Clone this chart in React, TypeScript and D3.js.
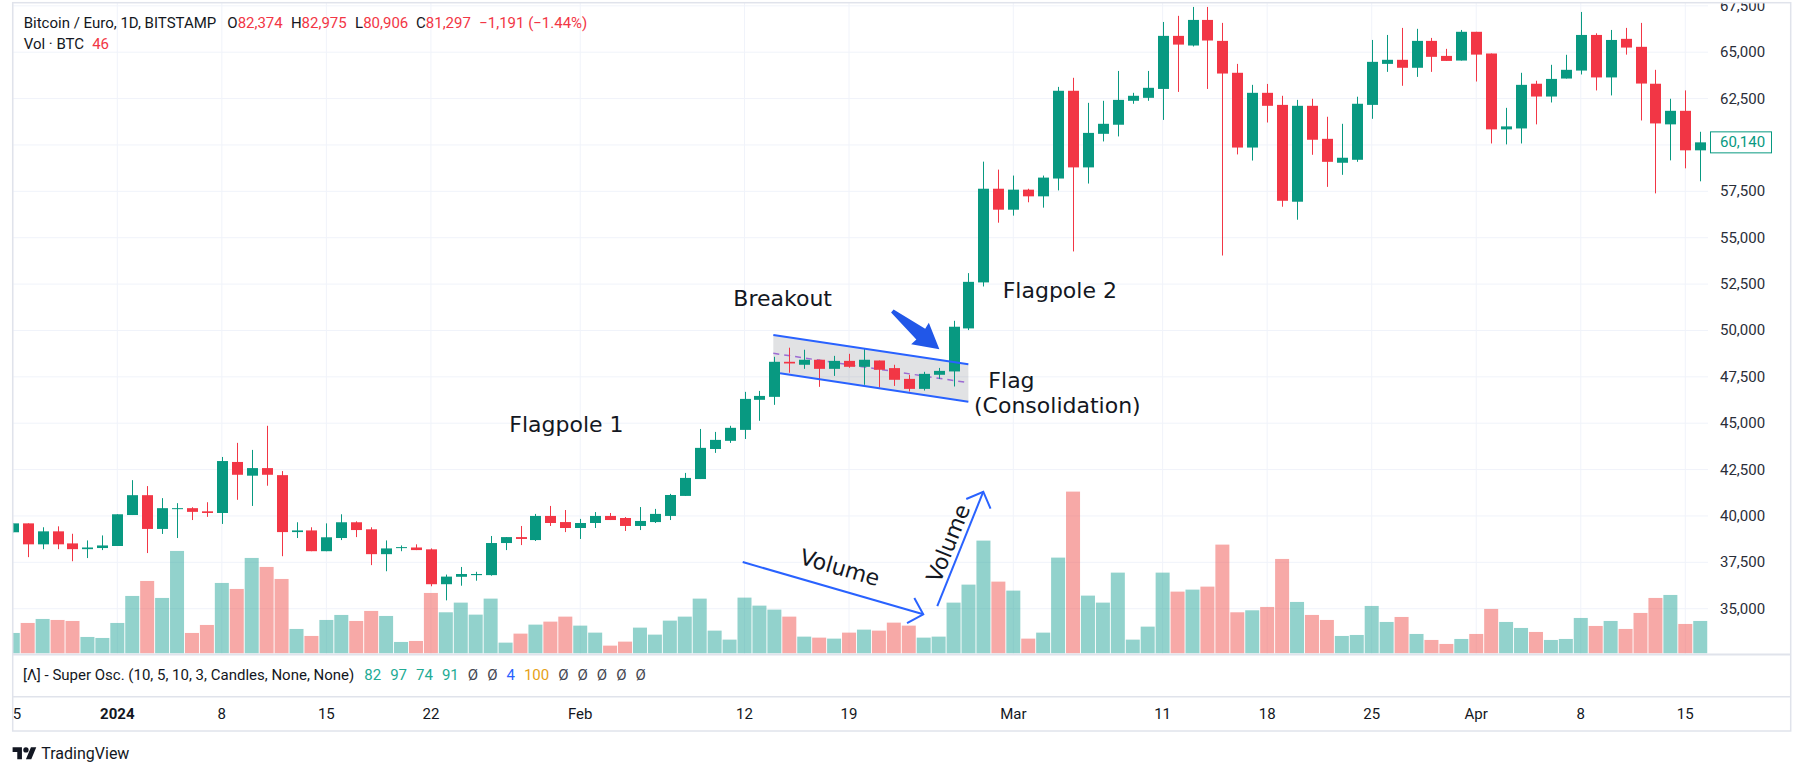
// @ts-nocheck
import * as d3 from "d3";

// daily candles, BTC/EUR Bitstamp, from 25 Dec 2023
const firstDay = "2023-12-25";
const opens = [
  39120, 39600, 38470, 39170, 38520, 38210, 38270, 38380, 40050, 41120, 39300, 40370, 40420, 40250,
  40160, 42910, 42170, 42580, 42200, 39130, 39220, 38100, 38810, 39660, 39280, 37940, 38270, 38300,
  38200, 36320, 36720, 36810, 36810, 38540, 38860, 38700, 40000, 39670, 39350, 39620, 40000, 39890,
  39460, 39670, 40000, 41080, 41990, 43610, 44050, 44640, 46260, 46420, 48310, 48150, 48420, 47930,
  48360, 48040, 48380, 47970, 47390, 46850, 47610, 47790, 50110, 52590, 57640, 56510, 57590, 57230,
  58190, 62920, 58790, 60600, 61090, 62380, 62540, 63020, 65880, 65360, 66740, 65610, 63890, 59860,
  62810, 62160, 56940, 62110, 60330, 59040, 59200, 62160, 64370, 64590, 64160, 65610, 64800, 64550,
  66100, 64930, 60840, 60890, 63300, 62610, 63580, 64010, 65930, 63640, 65720, 65290, 63300, 61110,
  61840, 59710, 60140,
];
const highs = [
  39600, 39600, 39390, 39440, 39040, 38680, 38950, 40090, 41930, 41610, 40960, 40690, 40470, 40740,
  43180, 43940, 43560, 44860, 42420, 39660, 39390, 39600, 40090, 39710, 39390, 38680, 38410, 38470,
  38250, 36840, 37250, 36990, 38920, 38860, 39460, 40110, 40540, 40320, 39840, 40210, 40160, 39940,
  40480, 40380, 41190, 42320, 44690, 44530, 44860, 46690, 46740, 48580, 49070, 48960, 48420, 48630,
  48740, 49010, 48380, 48150, 47610, 47770, 47980, 50520, 53090, 59100, 58670, 58350, 57640, 58350,
  63130, 63620, 62270, 62380, 63990, 62810, 63990, 66630, 66960, 67440, 67440, 66580, 64370, 63240,
  63290, 62650, 62430, 62490, 61520, 61140, 62600, 65660, 65930, 66310, 66260, 65770, 65180, 66200,
  66100, 64930, 62000, 63890, 63460, 64320, 64860, 67170, 66020, 66200, 66310, 66580, 64050, 62490,
  62940, 60710, 60500,
];
const lows = [
  39120, 37780, 38210, 38210, 37560, 37730, 38160, 38380, 40050, 38000, 39030, 38810, 39780, 39950,
  39570, 40870, 40540, 41630, 37830, 38810, 38100, 38100, 38700, 38860, 37350, 37020, 38100, 38160,
  36210, 35450, 36240, 36510, 36780, 38160, 38430, 38650, 39460, 39130, 38760, 39350, 39780, 39190,
  39240, 39620, 39780, 41080, 41990, 43400, 43940, 44150, 45130, 45990, 47720, 47930, 46960, 47550,
  47990, 47070, 46920, 47010, 46710, 46760, 47390, 46980, 50020, 52370, 55810, 56190, 56910, 56620,
  57550, 54260, 57920, 60190, 60460, 62220, 62380, 61350, 62860, 65310, 63020, 54040, 59490, 59160,
  61210, 56670, 55970, 59470, 57740, 58390, 59090, 61410, 63940, 63190, 63670, 63940, 64530, 64550,
  63420, 60080, 60030, 60080, 61110, 62290, 63580, 63800, 62940, 62670, 64870, 61320, 57390, 59170,
  58740, 58040, 59500,
];
const closes = [
  39600, 38470, 39170, 38470, 38210, 38300, 38410, 40090, 41120, 39300, 40420, 40420, 40220, 40160,
  42960, 42220, 42580, 42220, 39130, 39220, 38100, 38850, 39660, 39240, 37940, 38250, 38320, 38160,
  36320, 36730, 36870, 36870, 38540, 38860, 38760, 40000, 39620, 39350, 39620, 40000, 39780, 39460,
  39730, 40110, 41130, 42050, 43670, 44100, 44750, 46310, 46470, 48310, 48220, 48420, 47930, 48360,
  48040, 48420, 47880, 47340, 46850, 47660, 47820, 50200, 52620, 57640, 56510, 57590, 57230, 58240,
  62920, 58790, 60650, 61140, 62430, 62650, 63080, 65880, 65410, 66740, 65630, 63850, 59860, 62810,
  62110, 56990, 62110, 60280, 59090, 59310, 62220, 64480, 64590, 64160, 65610, 64750, 64530, 66100,
  64870, 60840, 61000, 63240, 62610, 63560, 64050, 65930, 63640, 65660, 65250, 63310, 61160, 61840,
  59710, 60140, 59600,
];
const volumes = [
  61, 91, 103, 100, 97, 49, 46, 91, 172, 217, 166, 307, 61, 85,
  211, 193, 286, 259, 223, 73, 52, 100, 115, 97, 127, 112, 34, 37,
  181, 123, 152, 116, 164, 32, 59, 86, 95, 110, 83, 62, 23, 35,
  77, 56, 98, 110, 164, 68, 41, 167, 143, 131, 110, 50, 47, 44,
  62, 71, 68, 92, 83, 47, 50, 152, 206, 338, 215, 188, 44, 62,
  287, 485, 173, 152, 242, 41, 80, 242, 185, 191, 200, 326, 123, 129,
  139, 283, 154, 115, 100, 52, 55, 142, 94, 109, 58, 40, 28, 43,
  58, 133, 94, 76, 64, 40, 43, 106, 82, 97, 73, 121, 166, 175,
  88, 97, 118,
];

const priceTicks = [35000, 37500, 40000, 42500, 45000, 47500, 50000, 52500, 55000, 57500, 60000, 62500, 65000, 67500];
const timeTicks = [
  "2023-12-25", "2024-01-01", "2024-01-08", "2024-01-15", "2024-01-22", "2024-02-01", "2024-02-12",
  "2024-02-19", "2024-03-01", "2024-03-11", "2024-03-18", "2024-03-25", "2024-04-01", "2024-04-08", "2024-04-15",
];
const timeLabels = ["25", "2024", "8", "15", "22", "Feb", "12", "19", "Mar", "11", "18", "25", "Apr", "8", "15"];
const lastPrice = 60140;

const legendTitle = "Bitcoin / Euro, 1D, BITSTAMP";
const legendOHLC = [["O", "82,374"], ["H", "82,975"], ["L", "80,906"], ["C", "81,297"]];
const legendChange = "−1,191 (−1.44%)";
const volLegend = "46";
const oscTitle = "[Λ] - Super Osc. (10, 5, 10, 3, Candles, None, None)";
const oscValues = ["82", "97", "74", "91", "Ø", "Ø", "4", "100", "Ø", "Ø", "Ø", "Ø", "Ø"];
const oscColors = ["#22ab94", "#22ab94", "#22ab94", "#22ab94", "#434651", "#434651", "#2962ff", "#e6a117", "#434651", "#434651", "#434651", "#434651", "#434651"];

// drawings: [days after 1 Jan 2024, price]
const flagTop = [[43.93, 49755], [56.99, 48175]];
const flagBottom = [[43.93, 47745], [56.99, 46160]];
const flagMid = [[43.93, 48768], [56.99, 47183]];
const breakoutArrow = [[51.9, 51048], [55.05, 48984]];
const volArrow1 = [[41.88, 37517], [53.97, 34698]];
const volArrow2 = [[54.91, 35145], [57.99, 41307]];
const notes = [
  { text: "Flagpole 1", day: 26.25, price: 44540 },
  { text: "Breakout", day: 41.25, price: 51320 },
  { text: "Flagpole 2", day: 59.29, price: 51770 },
  { text: "Flag", day: 58.33, price: 46880 },
  { text: "(Consolidation)", day: 57.37, price: 45530 },
];
const volNotes = [
  { day: 48.39, price: 37210, along: volArrow1 },
  { day: 55.65, price: 38526, along: volArrow2 },
];

const W = 1804, H = 775;
const left = 12.7, plotRight = 1708, right = 1790.7, top = 2.7, paneBottom = 654;
const UP = "#089981", DOWN = "#f23645";
const sans = "Roboto, 'Liberation Sans', sans-serif";
const noteFont = "'DejaVu Sans', Verdana, sans-serif";

const jan1 = new Date(Date.UTC(2024, 0, 1));
const x = d3.scaleUtc([jan1, new Date(Date.UTC(2024, 3, 15))], [117.3, 1685.3]);
const y = d3.scaleLinear([35000, 65000], [608.7, 52.2]);
const yVol = d3.scaleLinear([0, d3.max(volumes)], [653.3, 491.6]);
const fmt = d3.format(",");

const days = opens.map((_, i) => d3.utcDay.offset(new Date(firstDay + "T00:00Z"), i));
const xd = (d) => x(new Date(jan1.getTime() + d * 864e5));
const pt = ([d, p]) => [xd(d), y(p)];

function arrowHead(a, b, len = 18.5) {
  const [x1, y1] = pt(a), [x2, y2] = pt(b);
  const ang = Math.atan2(y1 - y2, x1 - x2);
  const p1 = [x2 + len * Math.cos(ang + Math.PI / 4), y2 + len * Math.sin(ang + Math.PI / 4)];
  const p2 = [x2 + len * Math.cos(ang - Math.PI / 4), y2 + len * Math.sin(ang - Math.PI / 4)];
  return `M${p1}L${x2},${y2}L${p2}`;
}

// tapered arrow marker
function fatArrow(a, b) {
  const [tx, ty] = pt(a), [hx, hy] = pt(b);
  const L = Math.hypot(hx - tx, hy - ty);
  const ux = (hx - tx) / L, uy = (hy - ty) / L, nx = -uy, ny = ux;
  const bx = hx - ux * 24, by = hy - uy * 24;
  const pts = [
    [tx + nx * 2, ty + ny * 2],
    [bx + nx * 7, by + ny * 7],
    [bx - ux * 1 + nx * 14, by - uy * 1 + ny * 14],
    [hx, hy],
    [bx - ux * 1 - nx * 14, by - uy * 1 - ny * 14],
    [bx - nx * 7, by - ny * 7],
    [tx - nx * 2, ty - ny * 2],
  ];
  return "M" + pts.map((p) => p.join(",")).join("L") + "Z";
}

const line = d3.line().x((d) => xd(d[0])).y((d) => y(d[1]));

export default function App() {
  const flagPoly = [...flagTop, ...flagBottom.slice().reverse()].map((p) => pt(p).join(",")).join(" ");
  return (
    <svg width={W} height={H} style={{ position: "absolute", left: 0, top: 0, background: "#fff" }}>
      <defs>
        <clipPath id="plot"><rect x={left} y={top} width={plotRight - left} height={paneBottom - top} /></clipPath>
        <clipPath id="axis"><rect x={left} y={top} width={right - left} height={760} /></clipPath>
      </defs>

      {/* grid */}
      <g clipPath="url(#plot)" stroke="#f0f3fa" strokeWidth={1}>
        {priceTicks.map((p) => <line key={p} x1={left} x2={plotRight} y1={y(p)} y2={y(p)} />)}
        {timeTicks.map((t) => {
          const xx = x(new Date(t + "T00:00Z"));
          return <line key={t} x1={xx} x2={xx} y1={top} y2={paneBottom} />;
        })}
      </g>

      <g clipPath="url(#plot)">
        {/* volume */}
        {volumes.map((v, i) => (
          <rect key={i} x={x(days[i]) - 7} width={14} y={yVol(v)} height={yVol(0) - yVol(v)}
            fill={closes[i] >= opens[i] ? "rgba(38,166,154,0.5)" : "rgba(239,83,80,0.5)"} />
        ))}

        {/* flag */}
        <polygon points={flagPoly} fill="rgba(120,123,134,0.22)" />
        <path d={line(flagMid)} stroke="#9c6bd3" strokeWidth={1.5} strokeDasharray="6 5" fill="none" />

        {/* candles */}
        {opens.map((o, i) => {
          const c = closes[i], col = c >= o ? UP : DOWN, cx = Math.round(x(days[i]));
          const yt = y(Math.max(o, c)), yb = y(Math.min(o, c));
          return (
            <g key={i} fill={col}>
              <rect x={cx} width={1} y={y(highs[i])} height={y(lows[i]) - y(highs[i])} />
              <rect x={cx - 5} width={11} y={yt} height={Math.max(1, yb - yt)} />
            </g>
          );
        })}

        <path d={line(flagTop)} stroke="#2962ff" strokeWidth={2} fill="none" />
        <path d={line([[44.38, flagBottom[0][1] - (flagBottom[0][1] - flagBottom[1][1]) * (0.45 / 13.06)], flagBottom[1]])}
          stroke="#2962ff" strokeWidth={2} fill="none" />
        <path d={fatArrow(breakoutArrow[0], breakoutArrow[1])} fill="#2157e8" />

        {/* volume arrows */}
        {[volArrow1, volArrow2].map((a, i) => (
          <g key={i} stroke="#2962ff" strokeWidth={2} fill="none">
            <path d={line(a)} />
            <path d={arrowHead(a[0], a[1])} />
          </g>
        ))}
        {volNotes.map((n, i) => {
          const [a, b] = [pt(n.along[0]), pt(n.along[1])];
          const ang = (Math.atan2(b[1] - a[1], b[0] - a[0]) * 180) / Math.PI;
          const [tx, ty] = pt([n.day, n.price]);
          return (
            <text key={i} x={tx} y={ty} transform={`rotate(${ang},${tx},${ty})`} textAnchor="middle"
              dominantBaseline="central" fontFamily={noteFont} fontSize={22} fill="#131722">Volume</text>
          );
        })}

        {notes.map((n) => {
          const [tx, ty] = pt([n.day, n.price]);
          return <text key={n.text} x={tx} y={ty} fontFamily={noteFont} fontSize={22} fill="#131722">{n.text}</text>;
        })}
      </g>

      {/* price axis */}
      <g clipPath="url(#axis)" fontFamily={sans} fontSize={15} fill="#2a2e39">
        {priceTicks.map((p) => (
          <text key={p} x={1720} y={y(p)} dominantBaseline="central">{fmt(p)}</text>
        ))}
        <rect x={1710.5} y={y(lastPrice) - 10.5} width={61} height={21} fill="#fff" stroke={UP} strokeWidth={1} />
        <text x={1720} y={y(lastPrice)} dominantBaseline="central" fill={UP}>{fmt(lastPrice)}</text>
      </g>

      {/* legends */}
      <g fontFamily={sans} fontSize={15} fill="#131722">
        <text x={23.7} y={28.3}>{legendTitle}</text>
        {legendOHLC.map(([k, v], i) => (
          <text key={k} x={[227.3, 290.9, 355.1, 416][i]} y={28.3}>
            {k}<tspan fill={DOWN}>{v}</tspan>
          </text>
        ))}
        <text x={479.2} y={28.3} fill={DOWN}>{legendChange}</text>
        <text x={23.7} y={49}>Vol · BTC<tspan dx={8} fill={DOWN}>{volLegend}</tspan></text>
        <text x={23} y={679.6}>
          {oscTitle}
          {oscValues.map((v, i) => <tspan key={i} dx={i === 0 ? 10 : 9} fill={oscColors[i]}>{v}</tspan>)}
        </text>
      </g>

      {/* time axis */}
      <g clipPath="url(#axis)" fontFamily={sans} fontSize={15} fill="#131722" textAnchor="middle">
        {timeTicks.map((t, i) => (
          <text key={t} x={x(new Date(t + "T00:00Z"))} y={719.3} fontWeight={timeLabels[i] === "2024" ? "bold" : "normal"}>
            {timeLabels[i]}
          </text>
        ))}
      </g>

      {/* frame */}
      <g stroke="#e0e3eb" fill="none">
        <rect x={left} y={top} width={right - left} height={731 - top} strokeWidth={1.5} />
        <line x1={left} x2={right} y1={654.5} y2={654.5} strokeWidth={2} />
        <line x1={left} x2={right} y1={696.7} y2={696.7} strokeWidth={1.5} />
      </g>

      {/* logo */}
      <g transform="translate(12.6,744.6) scale(0.667)" fill="#131722">
        <path d="M14 22H7V11H0V4h14v18zM28 22h-8l7.5-18h8L28 22z" />
        <circle cx={20} cy={8} r={4} />
      </g>
      <text x={41.3} y={759} fontFamily={sans} fontSize={16} fill="#131722">TradingView</text>
    </svg>
  );
}
